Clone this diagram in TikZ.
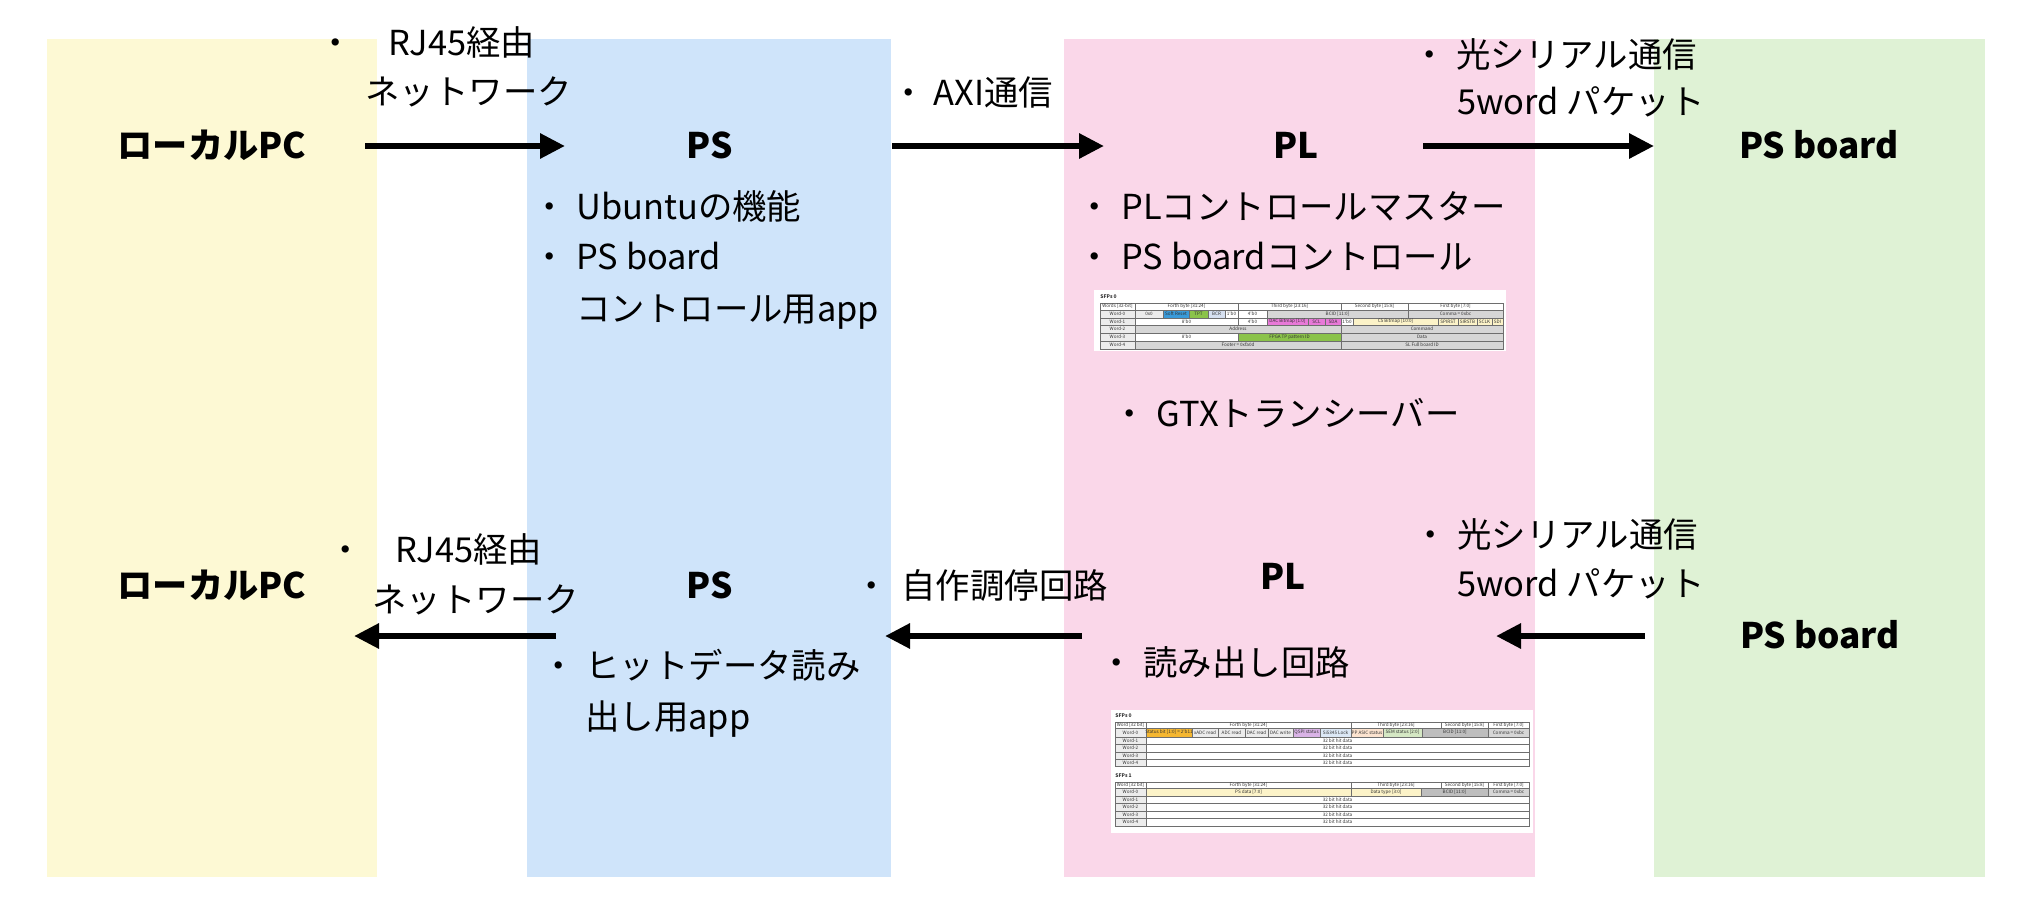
\documentclass[tikz,border=0pt]{standalone}
\usepackage{fontspec}
\setmainfont{Noto Sans CJK JP}
\usetikzlibrary{arrows.meta}
\definecolor{cyel}{RGB}{253,249,212}
\definecolor{cblue}{RGB}{207,228,250}
\definecolor{cpink}{RGB}{250,215,233}
\definecolor{cgreen}{RGB}{223,242,213}
\definecolor{tgrid}{RGB}{110,110,110}
\definecolor{tgray}{RGB}{214,214,214}
\definecolor{tdgray}{RGB}{190,190,190}
\definecolor{tlgray}{RGB}{236,236,236}
\definecolor{tsblue}{RGB}{58,154,217}
\definecolor{tgreen}{RGB}{139,195,74}
\definecolor{tbcr}{RGB}{214,224,240}
\definecolor{tmag}{RGB}{232,121,216}
\definecolor{tyel}{RGB}{252,243,200}
\definecolor{torange}{RGB}{245,183,49}
\definecolor{tpurple}{RGB}{217,179,230}
\definecolor{tlblue}{RGB}{220,232,245}
\definecolor{tpeach}{RGB}{252,227,207}
\definecolor{tlgreen}{RGB}{213,232,196}
\newcommand\tcl[6]{\filldraw[fill=#5,draw=tgrid,line width=0.3pt] (#1,#2) rectangle (#3,#4);
  \node[tt] at ({(#1+#3)/2},{(#2+#4)/2}) {#6};}
\begin{document}
\begin{tikzpicture}[x=0.5pt,y=-0.5pt,
  lbl/.style={font=\fontsize{17.6}{20}\selectfont\bfseries,inner sep=0pt,text height=13.8pt,text depth=1.5pt},
  body/.style={font=\fontsize{17.2}{20}\selectfont,inner sep=0pt,text height=13.5pt,text depth=1.5pt,anchor=west},
  bul/.style={font=\fontsize{17.2}{20}\selectfont,inner sep=0pt,text height=13.5pt,text depth=1.5pt},
  conn/.style={line width=3pt,-{Triangle[length=12.5pt,width=12pt]}},
  tt/.style={font=\fontsize{2.3}{2.5}\selectfont,inner sep=0pt,text=black!80},
  ttl/.style={font=\fontsize{2.5}{2.7}\selectfont\bfseries,inner sep=0pt,anchor=west,text=black!80}]
\useasboundingbox (0,0) rectangle (2028,916);
\fill[white] (0,0) rectangle (2028,916);
% columns
\fill[cyel] (47,39) rectangle (377,877);
\fill[cblue] (527,39) rectangle (891,877);
\fill[cpink] (1064,39) rectangle (1535,877);
\fill[cgreen] (1654,39) rectangle (1985,877);

% ---------- top row ----------
\node[lbl] (pc1) at (212,146) {ローカルPC};
\node[lbl] (ps1) at (710,146) {PS};
\node[lbl] (pl1) at (1296,146) {PL};
\node[lbl] (psb1) at (1819,146) {PS board};

\coordinate (a1s) at (365,146); \coordinate (a1e) at (565,146);
\coordinate (a2s) at (892,146); \coordinate (a2e) at (1104,146);
\coordinate (a3s) at (1423,146); \coordinate (a3e) at (1654,146);
\draw[conn] (a1s) -- (a1e);
\draw[conn] (a2s) -- (a2e);
\draw[conn] (a3s) -- (a3e);

\node[bul] (b1) at (336,43) {・};
\node[body] (t1a) at (388,43) {RJ45経由};
\node[body] (t1b) at (365,92) {ネットワーク};
\node[bul] (b2) at (909,93) {・};
\node[body] (t2) at (933,93) {AXI通信};
\node[bul] (b3) at (1430,55) {・};
\node[body] (t3a) at (1456,55) {光シリアル通信};
\node[body] (t3b) at (1457,102) {5word パケット};

\node[bul] (b4) at (550,207) {・};
\node[body] (t4) at (576,207) {Ubuntuの機能};
\node[bul] (b5) at (550,257) {・};
\node[body] (t5a) at (576,257) {PS board};
\node[body] (t5b) at (576,309) {コントロール用app};

\node[bul] (b6) at (1095,207) {・};
\node[body] (t6) at (1121,207) {PLコントロールマスター};
\node[bul] (b7) at (1095,257) {・};
\node[body] (t7) at (1121,257) {PS boardコントロール};
\node[bul] (b8) at (1130,414) {・};
\node[body] (t8) at (1156,414) {GTXトランシーバー};

% table 1
\fill[white] (1094,290) rectangle (1506,351);
\node[ttl] (tt1) at (1100,297) {SFPs 0};
\tcl{1100}{303}{1135}{310}{white}{Words [32-bit]}
\tcl{1135}{303}{1238}{310}{white}{Forth byte [31:24]}
\tcl{1238}{303}{1341}{310}{white}{Third byte [23:16]}
\tcl{1341}{303}{1408}{310}{white}{Second byte [15:8]}
\tcl{1408}{303}{1503}{310}{white}{First byte [7:0]}
\tcl{1100}{310}{1135}{318}{tlgray}{Word-0}
\tcl{1135}{310}{1163}{318}{tlgray}{0x0}
\tcl{1163}{310}{1189}{318}{tsblue}{Soft Reset}
\tcl{1189}{310}{1208}{318}{tgreen}{TPT}
\tcl{1208}{310}{1225}{318}{tbcr}{BCR}
\tcl{1225}{310}{1238}{318}{white}{1'b0}
\tcl{1238}{310}{1267}{318}{white}{4'b0}
\tcl{1267}{310}{1408}{318}{tgray}{BCID [11:0]}
\tcl{1408}{310}{1503}{318}{tgray}{Comma = 0xbc}
\tcl{1100}{318}{1135}{325}{tlgray}{Word-1}
\tcl{1135}{318}{1238}{325}{white}{8'b0}
\tcl{1238}{318}{1267}{325}{white}{4'b0}
\tcl{1267}{318}{1308}{325}{tmag}{DAC Bitmap [1:0]}
\tcl{1308}{318}{1325}{325}{tmag}{SCL}
\tcl{1325}{318}{1341}{325}{tmag}{SDA}
\tcl{1341}{318}{1353}{325}{white}{1'b0}
\tcl{1353}{318}{1438}{325}{tyel}{CS Bitmap [10:0]}
\tcl{1438}{318}{1458}{325}{tyel}{SPIRST}
\tcl{1458}{318}{1477}{325}{tyel}{SIRSTB}
\tcl{1477}{318}{1492}{325}{tyel}{SCLK}
\tcl{1492}{318}{1503}{325}{tyel}{SDI}
\tcl{1100}{325}{1135}{333}{tlgray}{Word-2}
\tcl{1135}{325}{1341}{333}{tgray}{Address}
\tcl{1341}{325}{1503}{333}{tgray}{Command}
\tcl{1100}{333}{1135}{341}{tlgray}{Word-3}
\tcl{1135}{333}{1238}{341}{white}{8'b0}
\tcl{1238}{333}{1341}{341}{tgreen}{FPGA TP pattern ID}
\tcl{1341}{333}{1503}{341}{tgray}{Data}
\tcl{1100}{341}{1135}{349}{tlgray}{Word-4}
\tcl{1135}{341}{1341}{349}{tgray}{Footer = 0xfa0d}
\tcl{1341}{341}{1503}{349}{tgray}{SL Full board ID}

% ---------- bottom row ----------
\node[lbl] (pc2) at (212,586) {ローカルPC};
\node[lbl] (ps2) at (710,586) {PS};
\node[lbl] (pl2) at (1283,577) {PL};
\node[lbl] (psb2) at (1820,636) {PS board};

\coordinate (c1s) at (556,636); \coordinate (c1e) at (354,636);
\coordinate (c2s) at (1082,636); \coordinate (c2e) at (885,636);
\coordinate (c3s) at (1645,636); \coordinate (c3e) at (1496,636);
\draw[conn] (c1s) -- (c1e);
\draw[conn] (c2s) -- (c2e);
\draw[conn] (c3s) -- (c3e);

\node[bul] (d1) at (346,550) {・};
\node[body] (u1a) at (395,550) {RJ45経由};
\node[body] (u1b) at (372,600) {ネットワーク};
\node[bul] (d2) at (872,586) {・};
\node[body] (u2) at (901,586) {自作調停回路};
\node[bul] (d3) at (1431,535) {・};
\node[body] (u3a) at (1457,535) {光シリアル通信};
\node[body] (u3b) at (1457,584) {5word パケット};
\node[bul] (d4) at (559,666) {・};
\node[body] (u4a) at (585,666) {ヒットデータ読み};
\node[body] (u4b) at (585,717) {出し用app};
\node[bul] (d5) at (1117,663) {・};
\node[body] (u5) at (1143,663) {読み出し回路};

% table 2
\fill[white] (1111,710) rectangle (1533,833);
\node[ttl] (tt2) at (1115,716) {SFPs 0};
\tcl{1115}{722}{1146}{728}{white}{Word [32 bit]}
\tcl{1146}{722}{1351}{728}{white}{Forth byte [31:24]}
\tcl{1351}{722}{1441}{728}{white}{Third byte [23:16]}
\tcl{1441}{722}{1488}{728}{white}{Second byte [15:8]}
\tcl{1488}{722}{1529}{728}{white}{First byte [7:0]}
\tcl{1115}{728}{1146}{737}{tlgray}{Word-0}
\tcl{1146}{728}{1192}{737}{torange}{Status bit [1:0] = 2'b11}
\tcl{1192}{728}{1218}{737}{tlgray}{xADC read}
\tcl{1218}{728}{1245}{737}{tlgray}{ADC read}
\tcl{1245}{728}{1268}{737}{tlgray}{DAC read}
\tcl{1268}{728}{1293}{737}{tlgray}{DAC write}
\tcl{1293}{728}{1320}{737}{tpurple}{QSPI status}
\tcl{1320}{728}{1351}{737}{tlblue}{Si5345 Lock}
\tcl{1351}{728}{1383}{737}{tpeach}{PP ASIC status}
\tcl{1383}{728}{1422}{737}{tlgreen}{SEM status [2:0]}
\tcl{1422}{728}{1488}{737}{tdgray}{BCID [11:0]}
\tcl{1488}{728}{1529}{737}{tgray}{Comma = 0xbc}
\tcl{1115}{737}{1146}{744}{tlgray}{Word-1}
\tcl{1146}{737}{1529}{744}{white}{32 bit hit data}
\tcl{1115}{744}{1146}{752}{tlgray}{Word-2}
\tcl{1146}{744}{1529}{752}{white}{32 bit hit data}
\tcl{1115}{752}{1146}{759}{tlgray}{Word-3}
\tcl{1146}{752}{1529}{759}{white}{32 bit hit data}
\tcl{1115}{759}{1146}{766}{tlgray}{Word-4}
\tcl{1146}{759}{1529}{766}{white}{32 bit hit data}

\node[ttl] (tt3) at (1115,776) {SFPs 1};
\tcl{1115}{782}{1146}{788}{white}{Word [32 bit]}
\tcl{1146}{782}{1351}{788}{white}{Forth byte [31:24]}
\tcl{1351}{782}{1441}{788}{white}{Third byte [23:16]}
\tcl{1441}{782}{1488}{788}{white}{Second byte [15:8]}
\tcl{1488}{782}{1529}{788}{white}{First byte [7:0]}
\tcl{1115}{788}{1146}{796}{tlgray}{Word-0}
\tcl{1146}{788}{1351}{796}{tyel}{PS data [7:0]}
\tcl{1351}{788}{1421}{796}{tyel}{Data type [3:0]}
\tcl{1421}{788}{1488}{796}{tdgray}{BCID [11:0]}
\tcl{1488}{788}{1529}{796}{tgray}{Comma = 0xbc}
\tcl{1115}{796}{1146}{803}{tlgray}{Word-1}
\tcl{1146}{796}{1529}{803}{white}{32 bit hit data}
\tcl{1115}{803}{1146}{811}{tlgray}{Word-2}
\tcl{1146}{803}{1529}{811}{white}{32 bit hit data}
\tcl{1115}{811}{1146}{818}{tlgray}{Word-3}
\tcl{1146}{811}{1529}{818}{white}{32 bit hit data}
\tcl{1115}{818}{1146}{826}{tlgray}{Word-4}
\tcl{1146}{818}{1529}{826}{white}{32 bit hit data}
\end{tikzpicture}
\end{document}
